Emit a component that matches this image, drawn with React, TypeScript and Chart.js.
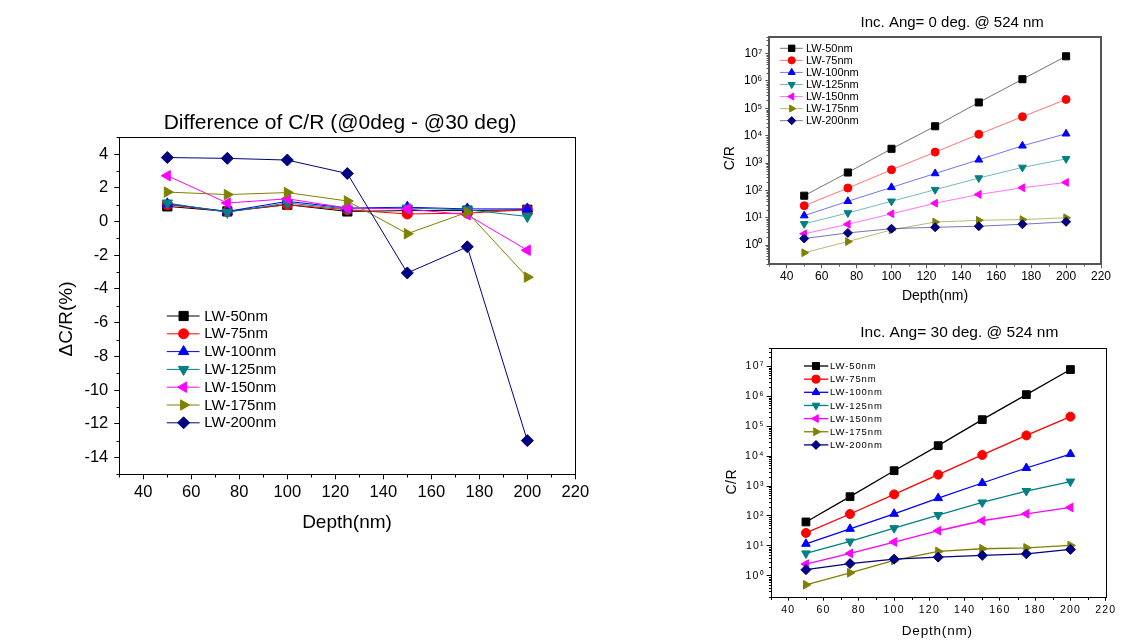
import React, { useEffect, useRef } from 'react';
import { Chart, registerables } from 'chart.js';
import { drawPoint } from 'chart.js/helpers';

Chart.register(...registerables);

const FONT = "'Liberation Sans', Arial, sans-serif";
Chart.defaults.font.family = FONT;
Chart.defaults.color = '#000';

// ---------- data ----------
const depths = [50, 75, 100, 125, 150, 175, 200];
const seriesNames = ['LW-50nm', 'LW-75nm', 'LW-100nm', 'LW-125nm', 'LW-150nm', 'LW-175nm', 'LW-200nm'];
const depthTicks = [40, 60, 80, 100, 120, 140, 160, 180, 200, 220];
const deltaTicks = [-14, -12, -10, -8, -6, -4, -2, 0, 2, 4];
const logTicks = [1, 10, 100, 1000, 10000, 100000, 1000000, 10000000];

// Difference of C/R (%)
const dcr50 = [0.9, 0.6, 1.0, 0.6, 0.65, 0.65, 0.7];
const dcr75 = [1.0, 0.6, 1.0, 0.7, 0.45, 0.5, 0.7];
const dcr100 = [1.05, 0.6, 1.2, 0.8, 0.85, 0.75, 0.75];
const dcr125 = [1.1, 0.55, 1.1, 0.75, 0.8, 0.7, 0.3];
const dcr150 = [2.72, 1.1, 1.35, 0.8, 0.75, 0.4, -1.7];
const dcr175 = [1.75, 1.6, 1.72, 1.22, -0.72, 0.55, -3.3];
const dcr200 = [3.8, 3.75, 3.65, 2.85, -3.05, -1.5, -13.0];

// C/R at 0 deg
const cr0_50 = [64, 450, 3300, 22000, 163000, 1150000, 7900000];
const cr0_75 = [27.5, 122, 565, 2500, 11200, 49000, 210000];
const cr0_100 = [12, 40, 129, 415, 1310, 4250, 11700];
const cr0_125 = [6, 15, 40, 106, 283, 690, 1420];
const cr0_150 = [2.6, 5.8, 14, 34, 71, 125, 195];
const cr0_175 = [0.53, 1.35, 3.6, 7, 8.1, 8.6, 10];
const cr0_200 = [1.75, 2.8, 4, 4.5, 4.9, 5.8, 7.1];

// C/R at 30 deg
const cr30_50 = [63, 440, 3250, 22300, 165000, 1130000, 7800000];
const cr30_75 = [27, 116, 525, 2400, 10900, 49000, 208000];
const cr30_100 = [11.7, 37, 118, 395, 1260, 4000, 11700];
const cr30_125 = [5.6, 14, 39, 107, 282, 680, 1410];
const cr30_150 = [2.46, 5.6, 13.4, 32, 69, 118, 192];
const cr30_175 = [0.5, 1.26, 3.25, 6.5, 8, 8.6, 10.3];
const cr30_200 = [1.6, 2.55, 3.6, 4.2, 4.8, 5.4, 7.6];

const dcrSeries = [dcr50, dcr75, dcr100, dcr125, dcr150, dcr175, dcr200];
const cr0Series = [cr0_50, cr0_75, cr0_100, cr0_125, cr0_150, cr0_175, cr0_200];
const cr30Series = [cr30_50, cr30_75, cr30_100, cr30_125, cr30_150, cr30_175, cr30_200];

// ---------- styles ----------
const COLORS = ['#000000', '#ff0000', '#0000ff', '#008080', '#ff00ff', '#808000', '#000080'];
const RGB = ['0,0,0', '255,0,0', '0,0,255', '0,128,128', '255,0,255', '128,128,0', '0,0,128'];
const STYLES = ['rect', 'circle', 'triangle', 'triangle', 'triangle', 'triangle', 'rectRot'];
const ROTS = [0, 0, 0, 180, 270, 90, 0];

const SUP = ['⁰', '¹', '²', '³', '⁴', '⁵', '⁶', '⁷', '⁸', '⁹'];
const supLabel = (v: number) => {
  const e = Math.round(Math.log10(v));
  return '10' + String(e).split('').map((c) => (c === '-' ? '⁻' : SUP[+c])).join('');
};

function makeDeco(spec: any) {
  return {
    id: 'deco',
    beforeDraw(chart: any) {
      chart.ctx.letterSpacing = spec.tickSpacing || '0px';
    },
    afterDraw(chart: any) {
      const ctx = chart.ctx;
      const ca = chart.chartArea;
      const xs = chart.scales.x;
      const ys = chart.scales.y;
      ctx.save();
      const fw = spec.frameWidth;
      const off = fw % 2 === 1 ? 0.5 : 0;
      const L = Math.round(ca.left) + off;
      const R = Math.round(ca.right) + off;
      const T = Math.round(ca.top) + off;
      const B = Math.round(ca.bottom) + off;
      ctx.strokeStyle = spec.frameColor;
      ctx.lineWidth = fw;
      ctx.strokeRect(L, T, R - L, B - T);

      // minor ticks
      ctx.lineWidth = 1;
      ctx.beginPath();
      for (let v = xs.min; v <= xs.max + 1e-9; v += 10) {
        if (Math.abs(v % 20) < 1e-9) continue;
        const p = Math.round(xs.getPixelForValue(v)) + 0.5;
        ctx.moveTo(p, B);
        ctx.lineTo(p, B + spec.minorLen);
      }
      if (spec.log) {
        for (let d = -1; d <= 7; d++) {
          for (let k = 2; k <= 9; k++) {
            const v = k * Math.pow(10, d);
            if (v < ys.min || v > ys.max) continue;
            const p = Math.round(ys.getPixelForValue(v)) + 0.5;
            ctx.moveTo(L, p);
            ctx.lineTo(L - spec.minorLen, p);
          }
        }
      } else {
        for (let v = Math.ceil(ys.min); v <= ys.max; v += 1) {
          if (Math.abs(v % 2) < 1e-9) continue;
          const p = Math.round(ys.getPixelForValue(v)) + 0.5;
          ctx.moveTo(L, p);
          ctx.lineTo(L - spec.minorLen, p);
        }
      }
      ctx.stroke();

      // texts
      ctx.fillStyle = '#000';
      ctx.textAlign = 'center';
      ctx.textBaseline = 'middle';
      for (const t of spec.texts) {
        ctx.save();
        ctx.font = `${t.size}px ${FONT}`;
        ctx.letterSpacing = t.spacing || '0px';
        ctx.translate(t.x, t.y);
        if (t.rotate) ctx.rotate(-Math.PI / 2);
        ctx.fillText(t.text, 0, 0);
        ctx.restore();
      }

      // legend
      const lg = spec.legend;
      chart.data.datasets.forEach((ds: any, i: number) => {
        const y = lg.y0 + i * lg.dy;
        ctx.save();
        ctx.strokeStyle = ds.borderColor;
        ctx.lineWidth = ds.borderWidth;
        ctx.beginPath();
        ctx.moveTo(lg.x0, y);
        ctx.lineTo(lg.x1, y);
        ctx.stroke();
        ctx.fillStyle = ds.pointBackgroundColor;
        ctx.strokeStyle = ds.pointBorderColor;
        ctx.lineWidth = 1;
        drawPoint(ctx, { pointStyle: ds.pointStyle, rotation: ds.pointRotation, radius: ds.pointRadius * lg.scale, borderWidth: 1 }, lg.xm, y);
        ctx.fillStyle = '#000';
        ctx.font = `${lg.size}px ${FONT}`;
        ctx.letterSpacing = lg.spacing || '0px';
        ctx.textAlign = 'left';
        ctx.textBaseline = 'middle';
        ctx.fillText(ds.label, lg.xt, y + 0.5);
        ctx.restore();
      });
      ctx.restore();
    },
  };
}

function buildChart(canvas: HTMLCanvasElement, spec: any) {
  const datasets = spec.series.map((vals: number[], i: number) => ({
    label: seriesNames[i],
    data: depths.map((x, j) => ({ x, y: vals[j] })),
    borderColor: spec.lineAlpha < 1 ? `rgba(${RGB[i]},${spec.lineAlpha})` : COLORS[i],
    backgroundColor: COLORS[i],
    pointBackgroundColor: COLORS[i],
    pointBorderColor: COLORS[i],
    pointBorderWidth: 1,
    pointStyle: STYLES[i],
    pointRotation: ROTS[i],
    pointRadius: spec.pointSizes[i],
    borderWidth: spec.lineWidth,
    fill: false,
    tension: 0,
    order: 6 - i,
  }));
  const grid = {
    drawOnChartArea: false,
    drawTicks: true,
    tickLength: spec.tickLen,
    color: spec.frameColor,
    lineWidth: 1,
  };
  return new Chart(canvas, {
    type: 'line',
    data: { datasets },
    plugins: [makeDeco(spec)],
    options: {
      animation: false,
      responsive: false,
      events: [],
      layout: { padding: { left: 0, top: spec.padTop, right: spec.padRight, bottom: 0 } },
      plugins: { legend: { display: false }, tooltip: { enabled: false }, title: { display: false } },
      scales: {
        x: {
          type: 'linear',
          min: 30,
          max: 220,
          afterBuildTicks: (s: any) => {
            s.ticks = depthTicks.map((v) => ({ value: v }));
          },
          afterFit: (s: any) => {
            s.height = spec.xHeight;
          },
          grid,
          border: { display: false },
          ticks: { color: '#000', font: { size: spec.tickSize }, padding: spec.xPad, maxRotation: 0, autoSkip: false },
        },
        y: {
          type: spec.log ? 'logarithmic' : 'linear',
          min: spec.yMin,
          max: spec.yMax,
          afterBuildTicks: (s: any) => {
            s.ticks = spec.yTicks.map((v: number) => ({ value: v }));
          },
          afterFit: (s: any) => {
            s.width = spec.yWidth;
          },
          grid,
          border: { display: false },
          ticks: {
            color: '#000',
            font: { size: spec.tickSize },
            padding: spec.yPad,
            autoSkip: false,
            callback: spec.log ? (v: number) => supLabel(v) : (v: number) => String(v),
          },
        },
      },
    } as any,
  });
}

const leftSpec = {
  series: dcrSeries,
  log: false,
  yMin: -15,
  yMax: 5,
  yTicks: deltaTicks,
  padTop: 42.3,
  padRight: 34.7,
  yWidth: 79.3,
  xHeight: 70.7,
  tickLen: 5,
  minorLen: 3,
  tickSize: 16.5,
  xPad: 3,
  yPad: 6,
  frameColor: '#000',
  frameWidth: 1,
  lineWidth: 1,
  lineAlpha: 1,
  pointSizes: [6.5, 5, 6, 6, 6, 6, 6],
  texts: [
    { text: 'Difference of C/R (@0deg - @30 deg)', x: 300, y: 28.3, size: 21 },
    { text: 'Depth(nm)', x: 307, y: 427.5, size: 19 },
    { text: 'ΔC/R(%)', x: 26.8, y: 224, size: 19, rotate: true },
  ],
  legend: { x0: 126.8, x1: 159.6, xm: 143.6, xt: 164.3, y0: 221, dy: 17.8, size: 15, scale: 1 },
};

const topSpec = {
  series: cr0Series,
  log: true,
  yMin: 0.2,
  yMax: 40000000,
  yTicks: logTicks,
  padTop: 37,
  padRight: 27,
  yWidth: 69.3,
  xHeight: 55.7,
  tickLen: 4,
  minorLen: 2.5,
  tickSize: 12,
  xPad: 1,
  yPad: 3,
  frameColor: '#555555',
  frameWidth: 2,
  lineWidth: 1,
  lineAlpha: 0.55,
  pointSizes: [5, 4, 4.5, 4.5, 4.5, 4.5, 4.5],
  texts: [
    { text: 'Inc. Ang= 0 deg. @ 524 nm', x: 252.2, y: 23.3, size: 15 },
    { text: 'Depth(nm)', x: 235, y: 296, size: 14 },
    { text: 'C/R', x: 30, y: 158.3, size: 14, rotate: true },
  ],
  legend: { x0: 80, x1: 102.7, xm: 91.7, xt: 106, y0: 48.3, dy: 12.06, size: 11, scale: 0.9 },
};

const bottomSpec = {
  series: cr30Series,
  log: true,
  yMin: 0.2,
  yMax: 40000000,
  yTicks: logTicks,
  padTop: 33.3,
  padRight: 22.3,
  yWidth: 70.7,
  xHeight: 46.3,
  tickLen: 4,
  minorLen: 2.5,
  tickSize: 10.5,
  tickSpacing: '1.2px',
  xPad: 3,
  yPad: 2,
  frameColor: '#000',
  frameWidth: 1,
  lineWidth: 1.3,
  lineAlpha: 1,
  pointSizes: [5.5, 4.5, 5, 5, 5, 5, 5],
  texts: [
    { text: 'Inc. Ang= 30 deg. @ 524 nm', x: 259.3, y: 17.3, size: 15.5 },
    { text: 'Depth(nm)', x: 237.3, y: 316, size: 13.5, spacing: '0.8px' },
    { text: 'C/R', x: 31.7, y: 166.7, size: 14, rotate: true, spacing: '0.5px' },
  ],
  legend: { x0: 104, x1: 128.3, xm: 116, xt: 130, y0: 51, dy: 13.15, size: 9.5, spacing: '0.9px', scale: 0.9 },
};

function ChartBox({ spec, left, top, width, height }: any) {
  const ref = useRef<HTMLCanvasElement | null>(null);
  useEffect(() => {
    if (!ref.current) return;
    const chart = buildChart(ref.current, spec);
    return () => chart.destroy();
  }, [spec]);
  return (
    <canvas
      ref={ref}
      width={width}
      height={height}
      style={{ position: 'absolute', left, top, width, height, display: 'block' }}
    />
  );
}

export default function App() {
  return (
    <div style={{ position: 'fixed', left: 0, top: 0, width: 1128, height: 643, background: '#fff', overflow: 'hidden' }}>
      <ChartBox spec={leftSpec} left={40} top={95} width={570} height={450} />
      <ChartBox spec={topSpec} left={700} top={0} width={428} height={320} />
      <ChartBox spec={bottomSpec} left={700} top={315} width={428} height={328} />
    </div>
  );
}
